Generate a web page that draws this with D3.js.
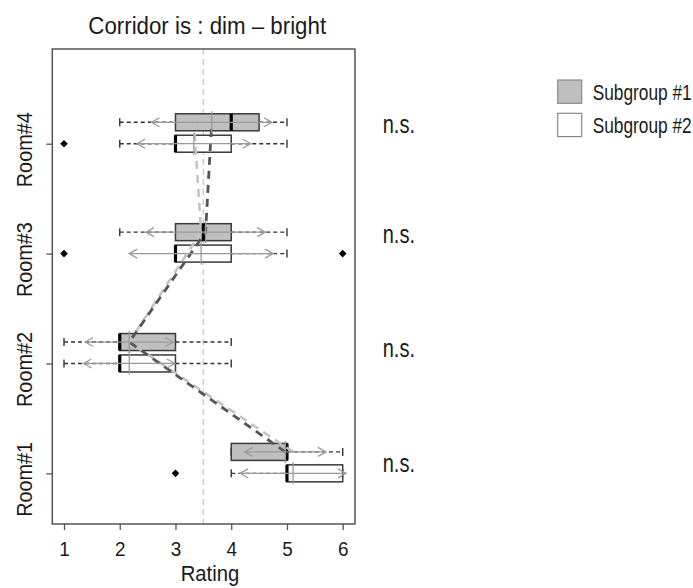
<!DOCTYPE html>
<html>
<head>
<meta charset="utf-8">
<script src="https://cdn.jsdelivr.net/npm/d3@7"></script>
<style>
  html, body { margin: 0; padding: 0; background: #fff; }
  svg { display: block; }
  text { font-family: "Liberation Sans", Arial, sans-serif; fill: #1a1a1a; }
</style>
</head>
<body>
<div id="chart"></div>
<script>
// ---------------- data ----------------
const rooms = ["Room#1", "Room#2", "Room#3", "Room#4"];
const roomPos = [1, 2, 3, 4];
const xTicks = [1, 2, 3, 4, 5, 6];
const refValue = 3.5;
const subgroupNames = ["Subgroup #1", "Subgroup #2"];
const sigLabels = ["n.s.", "n.s.", "n.s.", "n.s."];

// Subgroup #1 (grey boxes), per room 1..4
const sub1WhiskerLow  = [4, 1, 2, 2];
const sub1Q1          = [4, 2, 3, 3];
const sub1Median      = [5, 2, 3.5, 4];
const sub1Q3          = [5, 3, 4, 4.5];
const sub1WhiskerHigh = [6, 4, 5, 5];
const sub1Mean        = [4.97, 2.17, 3.54, 3.65];
const sub1SD          = [0.73, 0.79, 1.07, 1.08];
const sub1Outliers    = [[], [], [], []];

// Subgroup #2 (white boxes)
const sub2WhiskerLow  = [4, 1, 3, 2];
const sub2Q1          = [5, 2, 3, 3];
const sub2Median      = [5, 2, 3, 3];
const sub2Q3          = [6, 3, 4, 4];
const sub2WhiskerHigh = [6, 4, 5, 5];
const sub2Mean        = [5.11, 2.17, 3.46, 3.33];
const sub2SD          = [0.95, 0.82, 1.29, 1.02];
const sub2Outliers    = [[3], [], [1, 6], [1]];

// ---------------- layout ----------------
const W = 693, H = 588;
const frame = { left: 52.3, right: 355, top: 49, bottom: 524 };
const sub1Offset = 0.195;
const boxHalf = 8.5;

const svg = d3.select("#chart").append("svg")
  .attr("width", W).attr("height", H);

const x = d3.scaleLinear().domain([1, 6]).range([64, 342.7]);
const y = d3.scaleLinear().domain([0.539, 4.862]).range([frame.bottom, frame.top]);

// text helper: draws text at natural size then horizontally compresses to target width
function fitText(parent, str, px, py, size, targetW, anchor, rotate) {
  const t = parent.append("text").attr("font-size", size)
    .attr("text-anchor", anchor || "start").text(str);
  const nat = t.node().getComputedTextLength();
  const sx = targetW / nat;
  t.attr("transform", `translate(${px},${py})${rotate ? ` rotate(${rotate})` : ""} scale(${sx},1)`);
  return t;
}

function build(i, which) {
  if (which === 1) return {
    pos: roomPos[i] + sub1Offset, wl: sub1WhiskerLow[i], q1: sub1Q1[i], med: sub1Median[i],
    q3: sub1Q3[i], wh: sub1WhiskerHigh[i], mean: sub1Mean[i], sd: sub1SD[i],
    out: sub1Outliers[i], fill: "#bfbfbf"
  };
  return {
    pos: roomPos[i], wl: sub2WhiskerLow[i], q1: sub2Q1[i], med: sub2Median[i],
    q3: sub2Q3[i], wh: sub2WhiskerHigh[i], mean: sub2Mean[i], sd: sub2SD[i],
    out: sub2Outliers[i], fill: "#ffffff"
  };
}
const boxes = [];
rooms.forEach((r, i) => { boxes.push(build(i, 1)); boxes.push(build(i, 2)); });

// reference line
svg.append("line")
  .attr("x1", x(refValue)).attr("x2", x(refValue))
  .attr("y1", frame.top).attr("y2", frame.bottom)
  .attr("stroke", "#cfcfcf").attr("stroke-width", 1.5)
  .attr("stroke-dasharray", "6,4");

// boxes
const g = svg.append("g");
boxes.forEach(b => {
  const cy = y(b.pos);
  [[b.wl, b.q1], [b.q3, b.wh]].forEach(([a, c]) => {
    g.append("line").attr("x1", x(a)).attr("x2", x(c)).attr("y1", cy).attr("y2", cy)
      .attr("stroke", "#333").attr("stroke-width", 1.4).attr("stroke-dasharray", "4,3");
  });
  [b.wl, b.wh].forEach(v => {
    g.append("line").attr("x1", x(v)).attr("x2", x(v)).attr("y1", cy - 4).attr("y2", cy + 4)
      .attr("stroke", "#333").attr("stroke-width", 1.4);
  });
  g.append("rect").attr("x", x(b.q1)).attr("y", cy - boxHalf)
    .attr("width", x(b.q3) - x(b.q1)).attr("height", 2 * boxHalf)
    .attr("fill", b.fill).attr("stroke", "#3a3a3a").attr("stroke-width", 1.5);
  g.append("line").attr("x1", x(b.med)).attr("x2", x(b.med))
    .attr("y1", cy - boxHalf).attr("y2", cy + boxHalf)
    .attr("stroke", "#000").attr("stroke-width", 3.2);
  b.out.forEach(v => {
    const ox = x(v);
    g.append("path").attr("d", `M${ox},${cy - 3.8}L${ox + 3.8},${cy}L${ox},${cy + 3.8}L${ox - 3.8},${cy}Z`)
      .attr("fill", "#000");
  });
});

// connecting dashed lines of the means (at subgroup #1 level)
const line = d3.line().x(d => x(d[0])).y(d => y(d[1]));
const lightPts = roomPos.map((p, i) => [sub2Mean[i], p + sub1Offset]);
const darkPts = roomPos.map((p, i) => [sub1Mean[i], p + sub1Offset]);
svg.append("path").attr("d", line(lightPts)).attr("fill", "none")
  .attr("stroke", "#c4c4c4").attr("stroke-width", 2.6).attr("stroke-dasharray", "8,6");
svg.append("path").attr("d", line(darkPts)).attr("fill", "none")
  .attr("stroke", "#555").attr("stroke-width", 2.8).attr("stroke-dasharray", "8,6");

// mean ± sd arrows and mean marks
boxes.forEach(b => {
  const cy = y(b.pos);
  const lo = x(b.mean - b.sd), hi = x(b.mean + b.sd);
  const ag = svg.append("g").attr("stroke", "#9a9a9a").attr("stroke-width", 1.3).attr("fill", "none");
  ag.append("line").attr("x1", lo).attr("x2", hi).attr("y1", cy).attr("y2", cy);
  ag.append("path").attr("d", `M${lo + 8},${cy - 4.5}L${lo},${cy}L${lo + 8},${cy + 4.5}`);
  ag.append("path").attr("d", `M${hi - 8},${cy - 4.5}L${hi},${cy}L${hi - 8},${cy + 4.5}`);
  ag.append("line").attr("x1", x(b.mean)).attr("x2", x(b.mean))
    .attr("y1", cy - 11).attr("y2", cy + 11);
});

// frame
svg.append("rect").attr("x", frame.left).attr("y", frame.top)
  .attr("width", frame.right - frame.left).attr("height", frame.bottom - frame.top)
  .attr("fill", "none").attr("stroke", "#555").attr("stroke-width", 1.5);

// x axis
const xAxis = svg.append("g").attr("transform", `translate(0,${frame.bottom})`)
  .call(d3.axisBottom(x).tickValues(xTicks).tickSize(6).tickFormat(d3.format("d")));
xAxis.select(".domain").remove();
xAxis.selectAll(".tick line").attr("stroke", "#555").attr("stroke-width", 1.3);
xAxis.selectAll(".tick text").attr("y", 32.5).attr("dy", null)
  .attr("font-size", 21).attr("fill", "#1a1a1a")
  .attr("font-family", "'Liberation Sans', Arial, sans-serif")
  .attr("transform", "scale(0.9,1)");

// y axis
const yAxis = svg.append("g").attr("transform", `translate(${frame.left},0)`)
  .call(d3.axisLeft(y).tickValues(roomPos).tickSize(6).tickFormat(""));
yAxis.select(".domain").remove();
yAxis.selectAll(".tick line").attr("stroke", "#555").attr("stroke-width", 1.3);
yAxis.selectAll(".tick text").remove();
rooms.forEach((r, i) => {
  fitText(svg, r, 32, y(roomPos[i]) + 6, 22.5, 75, "middle", -90);
});

// title and axis label
fitText(svg, "Corridor is : dim \u2013 bright", 88.3, 34, 24.5, 238, "start");
fitText(svg, "Rating", 180.7, 581, 21.5, 58.6, "start");

// significance labels
const sigBase = [471.7, 356.7, 243.3, 133];
sigLabels.forEach((s, i) => {
  fitText(svg, s, 382.7, sigBase[i], 25, 32.3, "start");
});

// legend
const legFill = ["#bfbfbf", "#ffffff"];
const legY = [80, 113.3];
subgroupNames.forEach((n, i) => {
  svg.append("rect").attr("x", 557.7).attr("y", legY[i]).attr("width", 24).attr("height", 23.3)
    .attr("fill", legFill[i]).attr("stroke", "#8a8a8a").attr("stroke-width", 1.2);
  fitText(svg, n, 592.7, legY[i] + 19.5, 22, 99, "start");
});
</script>
</body>
</html>
